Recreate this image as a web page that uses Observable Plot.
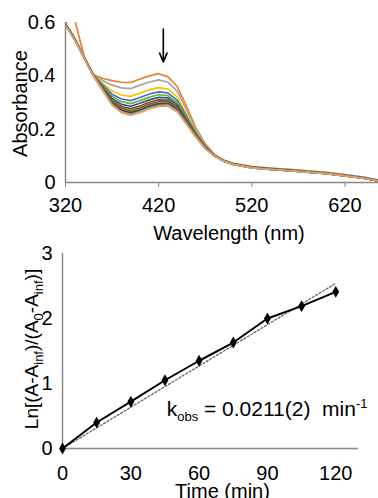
<!DOCTYPE html>
<html>
<head>
<meta charset="utf-8">
<script src="https://cdn.jsdelivr.net/npm/d3@7"></script>
<script src="https://cdn.jsdelivr.net/npm/@observablehq/plot@0.6"></script>
<style>
  body { margin: 0; background: #fff; }
  #chart { width: 378px; height: 498px; overflow: hidden; position: relative; background: #fff; }
  #chart svg { display: block; overflow: visible; }
</style>
</head>
<body>
<div id="chart"></div>
<script>
// ---------- Top panel: UV-vis spectra ----------
const wavelengths = [320,325,330,335,340,345,350,360,370,380,390,400,410,420,430,440,450,460,470,480,490,500,520,540,560,580,600,620,640,656];

const abs_t0   = [.592,.625,.610,.540,.472,.437,.405,.390,.382,.376,.375,.388,.400,.408,.396,.360,.285,.205,.145,.105,.083,.072,.060,.054,.049,.044,.038,.030,.020,.010];
const abs_t10  = [.596,.570,.540,.506,.471,.436,.404,.382,.365,.355,.352,.365,.377,.385,.376,.342,.273,.199,.142,.104,.083,.071,.059,.053,.048,.043,.037,.029,.019,.009];
const abs_t20  = [.595,.568,.539,.505,.470,.436,.404,.371,.343,.328,.323,.335,.348,.356,.350,.320,.257,.190,.138,.103,.082,.071,.058,.052,.047,.042,.036,.028,.018,.008];
const abs_t30  = [.594,.567,.538,.505,.470,.435,.403,.365,.331,.313,.307,.319,.332,.340,.336,.308,.248,.186,.136,.102,.082,.070,.058,.052,.047,.042,.036,.028,.018,.008];
const abs_t40  = [.595,.566,.537,.504,.469,.435,.403,.361,.323,.303,.296,.307,.320,.329,.326,.299,.242,.182,.134,.102,.082,.070,.057,.051,.046,.041,.035,.027,.017,.007];
const abs_t50  = [.593,.566,.537,.504,.469,.435,.402,.357,.315,.293,.286,.297,.310,.319,.317,.291,.236,.180,.133,.101,.081,.070,.057,.051,.046,.040,.034,.026,.017,.007];
const abs_t60  = [.594,.565,.536,.503,.468,.434,.402,.354,.308,.285,.277,.287,.301,.310,.309,.284,.231,.177,.131,.101,.081,.069,.057,.050,.045,.040,.034,.026,.016,.007];
const abs_t70  = [.593,.565,.536,.503,.468,.434,.401,.352,.303,.279,.270,.280,.294,.303,.303,.279,.228,.175,.130,.101,.081,.069,.056,.050,.045,.040,.034,.026,.016,.006];
const abs_t80  = [.592,.564,.535,.502,.468,.434,.401,.350,.300,.274,.265,.275,.289,.298,.298,.275,.225,.174,.130,.100,.080,.069,.056,.050,.044,.039,.033,.025,.016,.006];
const abs_t90  = [.592,.564,.535,.502,.467,.433,.401,.348,.297,.270,.261,.271,.285,.294,.295,.272,.223,.173,.129,.100,.080,.068,.056,.049,.044,.039,.033,.025,.016,.006];
const abs_t100 = [.591,.563,.534,.502,.467,.433,.400,.347,.294,.267,.258,.268,.282,.291,.292,.270,.221,.172,.129,.100,.080,.068,.055,.049,.044,.039,.033,.025,.016,.006];
const abs_t110 = [.591,.563,.534,.501,.466,.432,.400,.346,.292,.265,.255,.265,.279,.288,.290,.267,.220,.171,.128,.100,.080,.068,.055,.049,.044,.039,.033,.025,.016,.006];
const abs_t120 = [.590,.562,.533,.501,.466,.432,.400,.345,.290,.262,.252,.262,.276,.285,.287,.265,.218,.170,.128,.100,.080,.068,.055,.049,.044,.039,.033,.025,.016,.006];

const spectraTimes = [0,10,20,30,40,50,60,70,80,90,100,110,120];
const spectraColors = ["#ED7D31","#A5A5A5","#FFC000","#4472C4","#70AD47","#255E91","#9E480E","#636363","#997300","#264478","#43682B","#7CAFDD","#F1975A"];

const wlTicks = [320,420,520,620];
const wlTickLabels = ["320","420","520","620"];
const absTicks = [0,0.2,0.4,0.6];
const absTickLabels = ["0","0.2","0.4","0.6"];
const wlDomain = [320,656];
const absDomain = [0,0.6];

// annotation arrow (decay of the 425 nm band)
const arrowWl = [425];
const arrowFrom = [0.575];
const arrowTo = [0.452];

// ---------- Bottom panel: kinetics ----------
const timeMin = [0,15,30,45,60,75,90,105,120];
const lnRatio = [0,0.40,0.72,1.05,1.35,1.63,2.00,2.19,2.41];
const lnErr   = [0,0.02,0.02,0.02,0.03,0.02,0.02,0.02,0.05];
const fitTime = [0,120];
const fitLn   = [0,2.54];

const timeTicks = [0,30,60,90,120];
const timeTickLabels = ["0","30","60","90","120"];
const lnTicks = [0,1,2,3];
const lnTickLabels = ["0","1","2","3"];
const timeDomain = [0,130];
const lnDomain = [0,3];

// ---------- build tables ----------
const spectraSeries = [abs_t0,abs_t10,abs_t20,abs_t30,abs_t40,abs_t50,abs_t60,abs_t70,abs_t80,abs_t90,abs_t100,abs_t110,abs_t120];
const spectra = spectraSeries.flatMap((arr, k) => arr.map((a, i) => ({t: spectraTimes[k], w: wavelengths[i], a})));
const kin = timeMin.map((t, i) => ({t, y: lnRatio[i], e: lnErr[i]}));
const fit = fitTime.map((t, i) => ({t, y: fitLn[i]}));
const arrow = arrowWl.map((w, i) => ({w, y1: arrowFrom[i], y2: arrowTo[i]}));

const FONT = "'Liberation Sans', Arial, Helvetica, sans-serif";
const AXIS = "#888888";
const fmt = (ticks, labels) => d => labels[ticks.indexOf(d)];
const label = {fontSize: 20, fill: "#000", textAnchor: "middle", lineAnchor: "middle"};

const topPlot = Plot.plot({
  width: 378, height: 240,
  marginLeft: 65, marginRight: 0, marginTop: 22, marginBottom: 58,
  style: {fontFamily: FONT, fontSize: "20px", color: "#000", background: "transparent", overflow: "visible"},
  x: {domain: wlDomain},
  y: {domain: absDomain},
  color: {type: "ordinal", domain: spectraTimes, range: spectraColors},
  marks: [
    Plot.line(spectra, {x: "w", y: "a", z: "t", stroke: "t", strokeWidth: 1.7, clip: true}),
    Plot.ruleX([wlDomain[0]], {stroke: AXIS, strokeWidth: 1.5}),
    Plot.ruleY([absDomain[0]], {stroke: AXIS, strokeWidth: 1.5}),
    Plot.axisX({ticks: wlTicks, tickFormat: fmt(wlTicks, wlTickLabels), tickSize: 5, tickPadding: 10, stroke: AXIS, fill: "#000", label: null}),
    Plot.axisY({ticks: absTicks, tickFormat: fmt(absTicks, absTickLabels), tickSize: 0, tickPadding: 10, fill: "#000", label: null}),
    Plot.arrow(arrow, {x1: "w", x2: "w", y1: "y1", y2: "y2", stroke: "#000", strokeWidth: 1.6, headLength: 9, headAngle: 45}),
    Plot.text(["Absorbance"], {...label, text: d => d, frameAnchor: "left", rotate: -90, dx: -45, dy: 1}),
    Plot.text(["Wavelength (nm)"], {...label, text: d => d, frameAnchor: "bottom", dx: 7, dy: 51})
  ]
});

const yLabelKey = "Ln[(A-Ainf)/(A0-Ainf)]";
const kLabelKey = "kobs = 0.0211(2)  min-1";

const bottomPlot = Plot.plot({
  width: 378, height: 258,
  marginLeft: 62, marginRight: 20, marginTop: 13, marginBottom: 50,
  style: {fontFamily: FONT, fontSize: "20px", color: "#000", background: "transparent", overflow: "visible"},
  x: {domain: timeDomain},
  y: {domain: lnDomain},
  marks: [
    Plot.ruleX([timeDomain[0]], {stroke: AXIS, strokeWidth: 1.5}),
    Plot.ruleY([lnDomain[0]], {stroke: AXIS, strokeWidth: 1.5}),
    Plot.axisX({ticks: timeTicks, tickFormat: fmt(timeTicks, timeTickLabels), tickSize: 0, tickPadding: 17, fill: "#000", label: null}),
    Plot.axisY({ticks: lnTicks, tickFormat: fmt(lnTicks, lnTickLabels), tickSize: 0, tickPadding: 10, fill: "#000", label: null}),
    Plot.line(fit, {x: "t", y: "y", stroke: "#666", strokeWidth: 1.3, strokeDasharray: "2 2"}),
    Plot.ruleX(kin, {x: "t", y1: d => d.y - d.e, y2: d => d.y + d.e, stroke: "#000", strokeWidth: 1.2}),
    Plot.line(kin, {x: "t", y: "y", stroke: "#000", strokeWidth: 2}),
    Plot.dot(kin, {x: "t", y: "y", symbol: "diamond", r: 3.6, fill: "#000", stroke: "none"}),
    Plot.text([kLabelKey], {...label, fontSize: 21, text: d => d, frameAnchor: "bottom-right", textAnchor: "end", dx: 9, dy: -39}),
    Plot.text([yLabelKey], {...label, fontSize: 19, text: d => d, frameAnchor: "left", rotate: -90, dx: -31, dy: -2}),
    Plot.text(["Time (min)"], {...label, text: d => d, frameAnchor: "bottom", dx: 12, dy: 43})
  ]
});

function setRich(svg, key, parts) {
  d3.select(svg).selectAll("text").filter(function() { return this.textContent === key; }).each(function() {
    const t = d3.select(this);
    t.text(null);
    let shift = 0;
    for (const [s, kind] of parts) {
      const target = kind === "sub" ? 5 : kind === "sup" ? -8 : 0;
      const ts = t.append("tspan").text(s);
      if (target - shift !== 0) ts.attr("dy", target - shift);
      if (kind) ts.attr("font-size", "13px");
      shift = target;
    }
  });
}
setRich(bottomPlot, yLabelKey, [["Ln[(A-A",""],["inf","sub"],[")/(A",""],["0","sub"],["-A",""],["inf","sub"],[")]",""]]);
setRich(bottomPlot, kLabelKey, [["k",""],["obs","sub"],[" = 0.0211(2)  min",""],["-1","sup"]]);

const chart = document.getElementById("chart");
chart.appendChild(topPlot);
chart.appendChild(bottomPlot);
</script>
</body>
</html>
